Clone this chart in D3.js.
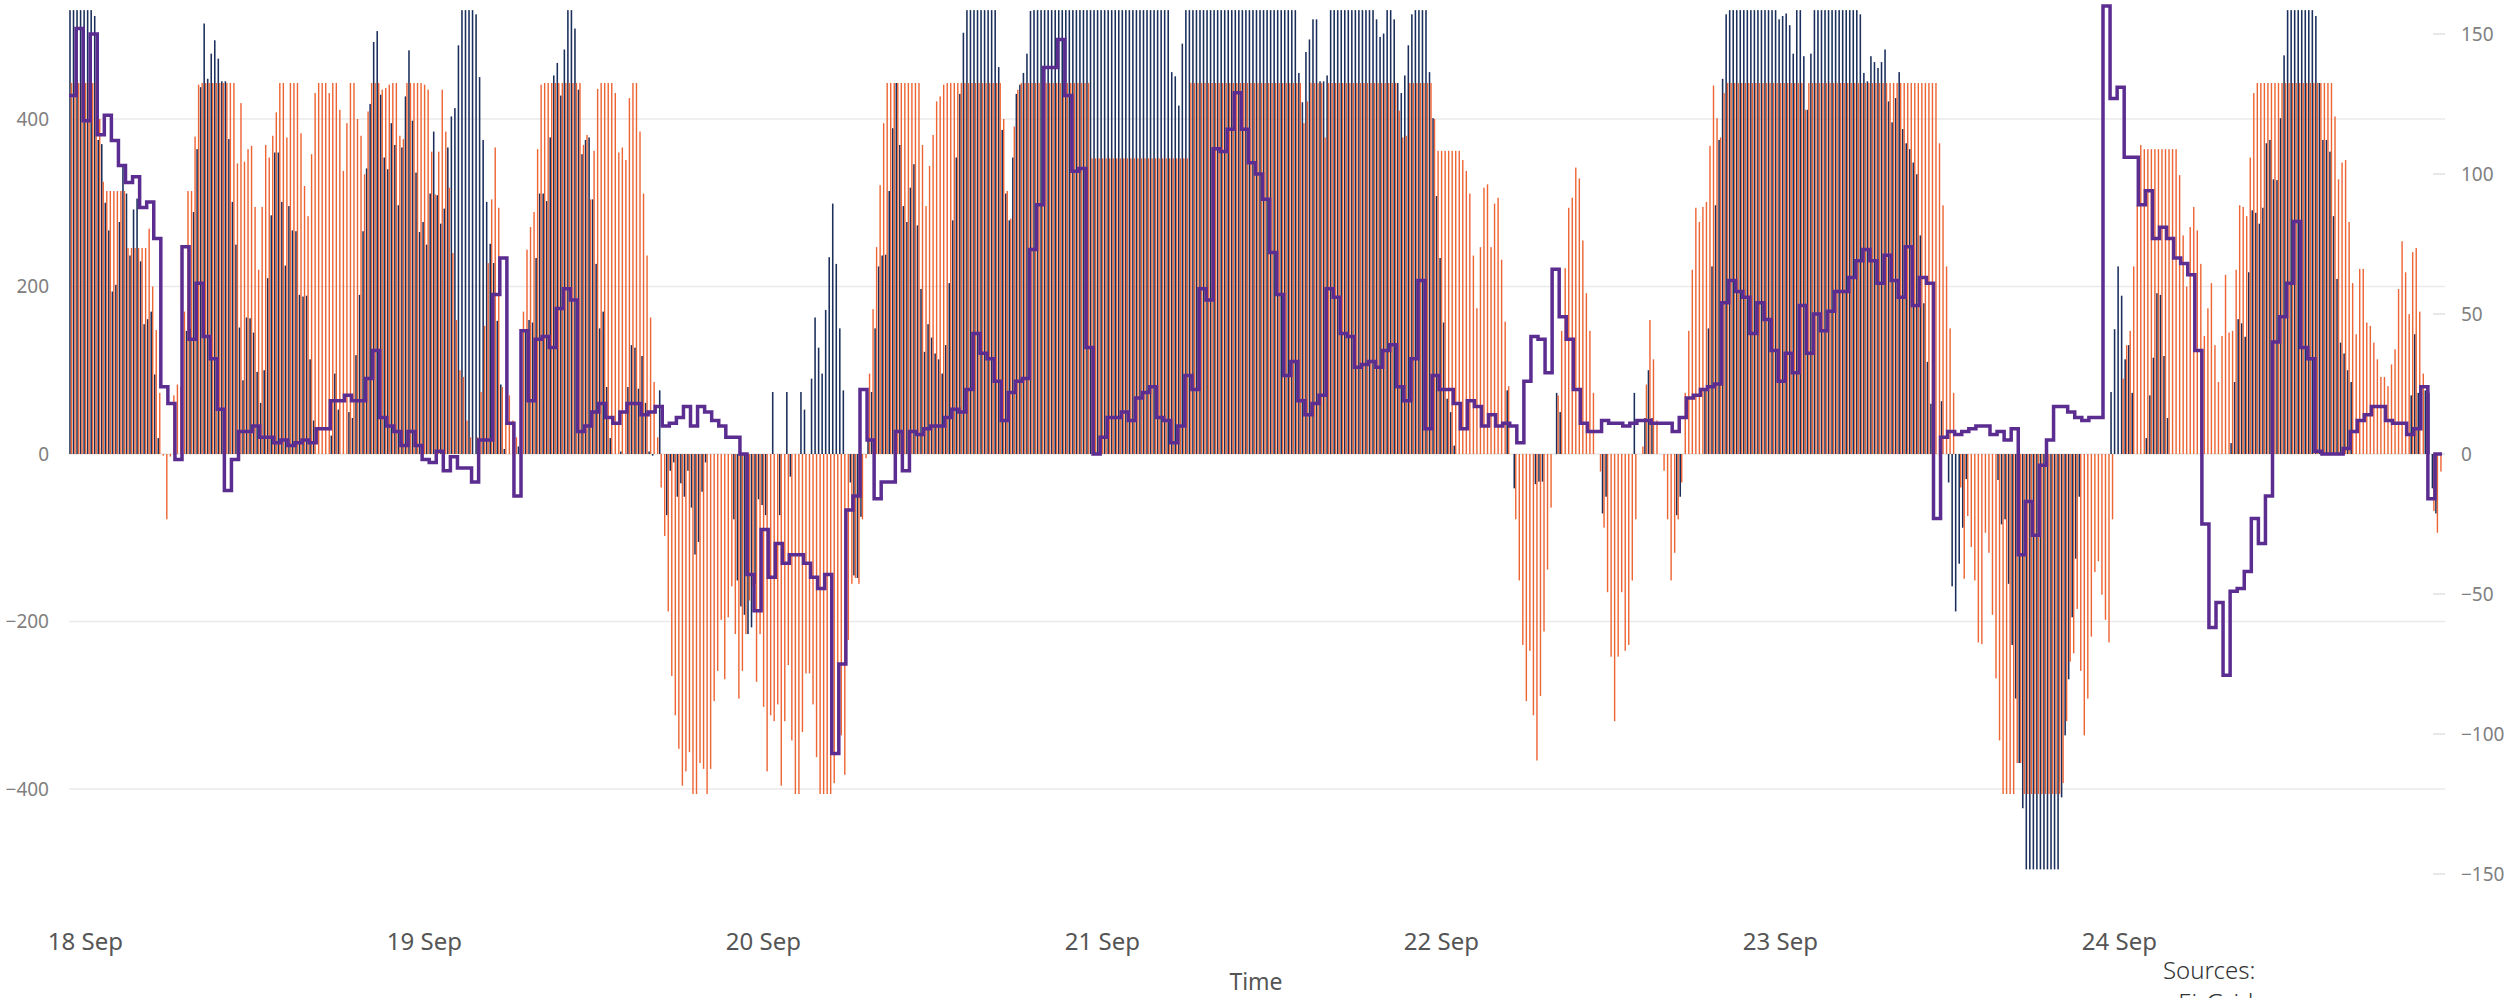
<!DOCTYPE html>
<html>
<head>
<meta charset="utf-8">
<script src="https://cdn.jsdelivr.net/npm/d3@7"></script>
<style>
  html, body { margin: 0; padding: 0; background: #ffffff; }
  svg { display: block; }
  text { font-family: "Noto Sans", "Open Sans", "DejaVu Sans", sans-serif; }
</style>
</head>
<body>
<svg id="chart" width="2519" height="998"></svg>
<script>
// ---------------- DATA ----------------
// 15-minute slots starting 17 Sep 23:00, 7 days (672 slots)
const seriesStart = "2023-09-17T23:00:00Z";
const slotMinutes = 15;
const lineStepMinutes = 30;

const blueValues = [
530,530,530,530,530,530,530,523,375,370,300,267,194,202,277,345,311,237,292,305,230,155,161,170,
95,19,0,0,0,0,0,0,0,147,150,289,364,438,514,448,478,494,472,445,445,376,301,250,
151,88,163,162,145,98,61,100,210,285,360,360,301,225,296,267,266,190,188,189,113,40,0,0,
0,0,22,96,53,0,0,50,43,118,190,266,341,418,492,505,429,354,340,395,369,297,366,427,
482,398,336,265,277,250,311,385,309,275,293,366,403,413,488,530,530,530,530,525,450,375,301,251,
228,159,83,6,0,0,0,9,0,147,160,157,234,311,311,302,378,452,467,428,483,530,530,508,
435,358,375,378,304,227,150,170,80,19,0,0,3,0,80,130,127,78,117,61,3,-2,0,76,
0,-73,-20,-10,-51,-35,-51,-20,-64,-120,-105,-45,-10,0,0,0,0,0,0,0,-78,-151,-182,-192,
-215,-207,-155,-54,-61,-73,0,74,0,-73,0,74,-27,0,0,74,53,0,90,163,127,96,172,235,
299,227,150,76,0,-34,-145,-148,-75,0,20,74,150,224,237,238,314,389,443,369,296,277,318,346,
273,197,122,155,139,120,113,96,130,204,279,354,430,503,530,530,530,530,530,530,530,530,530,462,
387,311,279,354,430,441,455,478,529,530,530,530,530,530,530,530,530,530,530,530,530,530,530,530,
530,530,530,530,530,530,530,530,530,530,530,530,530,530,530,530,530,530,530,530,530,530,530,530,
456,451,416,490,530,530,530,530,530,530,530,530,530,530,530,530,530,530,530,530,530,530,530,530,
530,530,530,530,530,530,530,530,530,530,530,530,455,420,480,495,519,519,445,445,452,530,530,530,
530,530,530,530,530,530,530,530,530,530,519,498,502,530,530,519,443,431,452,488,525,530,530,530,
530,456,401,308,234,157,66,50,10,0,0,0,0,0,0,0,0,0,0,0,0,0,0,76,
0,-41,0,0,0,0,0,-36,-33,-33,0,0,0,73,50,0,0,0,0,0,0,0,0,0,
0,0,-71,-51,0,0,0,0,0,0,0,73,0,0,43,100,43,0,0,0,0,0,0,-73,
-51,0,0,0,0,0,0,76,150,224,297,375,448,525,530,530,530,530,530,530,530,530,530,530,
530,530,530,530,519,523,526,512,478,530,530,475,411,478,530,530,530,530,530,530,530,530,530,530,
530,530,530,525,455,445,475,468,461,468,483,421,396,425,456,388,371,364,348,334,261,180,110,60,
0,0,63,0,-34,-158,-188,-131,-88,-30,0,0,0,0,0,0,0,0,-31,-84,-78,-155,-228,-292,
-369,-423,-496,-496,-496,-496,-496,-496,-496,-496,-496,-496,-410,-336,-269,-195,-125,-51,0,0,0,0,0,0,
0,0,74,149,224,189,113,130,73,0,0,0,19,70,115,192,190,117,43,0,0,0,0,0,
0,0,0,0,0,0,0,0,0,0,0,0,13,86,161,156,140,217,291,288,275,294,371,375,
328,327,401,476,530,530,530,530,530,530,530,530,523,443,375,375,361,284,209,133,120,100,86,0,
0,0,0,0,0,0,0,0,0,0,0,0,0,0,0,70,143,73,0,76,73,-41,-71,0
];

const orangeValues = [
443,443,443,443,443,443,443,443,400,325,314,314,314,314,314,314,246,246,246,246,246,246,269,200,
148,73,-2,-78,-3,70,83,80,170,314,314,379,441,443,443,443,443,443,443,443,443,443,443,347,
419,349,364,368,295,220,295,369,354,380,408,443,443,378,443,443,443,383,320,284,358,431,443,443,
443,431,443,443,411,338,395,443,443,400,380,334,409,443,443,443,435,437,441,443,443,380,376,443,
443,443,443,443,441,435,361,310,361,435,385,318,240,160,100,92,40,20,0,20,74,153,228,304,
366,294,80,40,70,40,20,0,170,244,271,289,364,441,443,443,443,443,443,443,443,443,443,443,
443,369,381,304,362,436,443,443,443,443,431,360,366,351,425,443,443,385,311,237,163,86,20,-40,
-98,-188,-265,-312,-352,-396,-379,-356,-406,-406,-369,-376,-406,-376,-295,-259,-198,-269,-195,-158,-215,-292,-259,-215,
-175,-158,-272,-215,-302,-379,-312,-319,-299,-396,-319,-252,-342,-406,-406,-332,-262,-262,-299,-362,-406,-406,-406,-406,
-393,-349,-336,-383,-222,-155,-148,-155,-78,-5,96,173,247,321,395,443,443,443,443,443,443,443,443,443,
443,369,296,344,381,421,427,441,443,443,443,443,443,443,443,443,443,443,443,443,443,443,443,443,
400,314,281,391,435,443,443,443,443,443,443,443,443,443,443,443,443,443,443,443,443,443,443,443,
443,353,353,353,353,353,353,353,353,353,353,353,353,353,353,353,353,353,353,353,353,353,353,353,
353,353,353,353,353,443,443,443,443,443,443,443,443,443,443,443,443,443,443,443,443,443,443,443,
443,443,443,443,443,443,443,443,443,443,443,443,443,395,421,443,443,443,443,378,443,443,443,443,
443,443,443,443,443,443,443,443,443,443,443,443,443,443,443,443,410,378,380,443,443,443,443,443,
443,443,400,362,362,362,362,362,362,362,351,338,311,237,174,247,318,322,247,299,306,232,158,81,
0,-78,-151,-228,-295,-235,-312,-366,-289,-212,-138,-64,0,70,147,222,294,306,342,329,255,192,147,73,
0,-21,-88,-165,-242,-319,-242,-165,-235,-228,-151,-78,0,9,83,160,113,40,0,-20,-78,-151,-118,-78,
-34,73,147,220,294,277,295,301,368,440,401,378,431,443,443,443,443,443,443,443,443,443,443,443,
443,443,443,443,443,443,443,443,443,443,443,411,443,443,443,443,443,443,443,443,443,443,443,443,
443,443,443,443,443,443,443,443,443,443,443,443,443,443,443,443,443,443,443,443,443,443,443,443,
443,371,297,224,150,73,0,-40,-149,-74,-111,-151,-225,-227,-94,-118,-192,-268,-342,-406,-406,-406,-406,-369,
-369,-406,-406,-406,-406,-406,-406,-406,-406,-406,-406,-406,-393,-319,-248,-238,-185,-259,-336,-292,-218,-141,-128,-168,
-198,-225,-78,0,0,90,130,147,224,297,369,364,364,364,364,364,364,364,364,364,364,333,261,200,
271,295,267,227,141,174,204,130,86,141,214,145,147,220,297,295,284,354,431,443,443,443,443,443,
443,443,443,443,443,443,443,443,443,443,443,443,443,443,443,443,443,403,328,348,351,277,204,143,
221,221,157,153,133,113,92,92,81,107,125,197,254,217,167,241,246,170,96,80,0,-68,-94,-21
];

// 30-minute step line (right axis)
const purpleValues = [
128,152,119,150,114,121,112,103,97,99,88,90,77,24,18,-2,74,41,61,42,34,16,-13,-2,
8,8,10,6,6,4,5,3,4,5,4,9,9,19,19,21,19,19,27,37,13,10,8,3,
8,3,-2,-3,1,-6,-1,-5,-5,-10,5,5,57,70,11,-15,44,19,41,42,38,52,59,55,
8,10,15,18,13,11,15,18,18,14,15,17,10,11,13,17,10,17,15,12,10,6,6,0,
-43,-56,-27,-44,-32,-39,-36,-36,-39,-44,-48,-43,-107,-75,-20,-15,23,5,-16,-10,-10,8,-6,8,
7,9,10,10,13,16,15,23,43,36,34,26,12,22,26,27,73,89,138,138,148,128,101,102,
38,0,6,13,13,15,12,20,22,24,13,12,4,10,28,23,59,55,109,108,116,129,116,104,
100,91,72,57,28,33,19,14,18,21,59,56,43,42,31,32,33,31,37,39,24,19,34,62,
9,28,23,23,18,9,19,17,10,14,10,11,10,4,26,42,41,29,66,49,41,23,11,8,
8,12,11,11,10,11,12,12,11,11,11,8,13,20,21,23,24,25,54,62,58,56,43,54,
48,37,26,36,29,53,36,50,44,51,58,58,63,69,73,69,61,71,62,56,74,53,63,61,
-23,6,8,7,8,9,10,10,7,8,5,9,-36,-17,-29,-4,5,17,17,15,13,12,13,13,
160,127,131,106,106,89,94,77,81,77,70,68,64,37,-25,-62,-53,-79,-49,-48,-42,-23,-32,-15,
40,49,61,83,38,34,1,0,0,0,2,8,12,14,17,17,12,11,11,7,9,24,-16,0
];

const leftTicks = [-400, -200, 0, 200, 400];
const rightTicks = [-150, -100, -50, 0, 50, 100, 150];
const xAxisTitle = "Time";
const sourcesLines = ["Sources:", "\u2022 EirGrid"];

// ---------------- DRAW ----------------
const svg = d3.select("#chart");
const W = 2519, H = 998;
const plot = { left: 69, right: 2442, top: 0, bottom: 880 };

const MIN = 60 * 1000;
const t0 = new Date(seriesStart).getTime();
const slotMs = slotMinutes * MIN;
const times = blueValues.map((_, i) => new Date(t0 + i * slotMs));
const x = d3.scaleUtc()
  .domain([new Date(t0 - slotMs / 2), new Date(t0 + (blueValues.length - 0.5) * slotMs)])
  .range([plot.left, plot.right]);

const yL = d3.scaleLinear().domain([-400, 400]).range([789, 119]);
const yR = d3.scaleLinear().domain([-150, 150]).range([874, 34]);

svg.append("rect").attr("width", W).attr("height", H).attr("fill", "#ffffff");

svg.append("defs").append("clipPath").attr("id", "plotClip")
  .append("rect").attr("x", plot.left).attr("y", plot.top)
  .attr("width", plot.right - plot.left + 4).attr("height", plot.bottom - plot.top);

// gridlines (left axis)
svg.append("g").selectAll("line").data(leftTicks).join("line")
  .attr("x1", plot.left).attr("x2", plot.right + 3)
  .attr("y1", d => yL(d)).attr("y2", d => yL(d))
  .attr("stroke", "#eaeaea").attr("stroke-width", 1.6);

// right-axis tick marks (inside)
svg.append("g").selectAll("line").data(rightTicks).join("line")
  .attr("x1", plot.right - 9).attr("x2", plot.right + 3)
  .attr("y1", d => yR(d)).attr("y2", d => yR(d))
  .attr("stroke", "#e3e3e3").attr("stroke-width", 1.6);

const slotPx = x(new Date(t0 + slotMs)) - x(new Date(t0));
const bwBlue = slotPx * 0.44;
const bwOrange = slotPx * 0.4;

const bars = svg.append("g").attr("clip-path", "url(#plotClip)");
bars.append("g").selectAll("rect").data(blueValues).join("rect")
  .attr("x", (d, i) => x(times[i]) - bwBlue)
  .attr("width", bwBlue)
  .attr("y", d => Math.min(yL(d), yL(0)))
  .attr("height", d => Math.abs(yL(d) - yL(0)))
  .attr("fill", "#1b2f5c");
bars.append("g").selectAll("rect").data(orangeValues).join("rect")
  .attr("x", (d, i) => x(times[i]))
  .attr("width", bwOrange)
  .attr("y", d => Math.min(yL(d), yL(0)))
  .attr("height", d => Math.abs(yL(d) - yL(0)))
  .attr("fill", "#ee6534");

// purple step line
const stepMs = lineStepMinutes * MIN;
const lineStart = t0 - slotMs / 2;
const linePts = purpleValues.map((v, j) => [new Date(lineStart + j * stepMs), v]);
linePts.push([new Date(lineStart + purpleValues.length * stepMs), purpleValues[purpleValues.length - 1]]);
const line = d3.line().x(d => x(d[0])).y(d => yR(d[1])).curve(d3.curveStepAfter);
svg.append("path").attr("clip-path", "url(#plotClip)")
  .datum(linePts).attr("d", line)
  .attr("fill", "none").attr("stroke", "#5c2d91").attr("stroke-width", 3.5)
  .attr("stroke-linejoin", "miter");

// left axis labels
const axL = d3.axisLeft(yL).tickValues(leftTicks).tickSize(0).tickPadding(0).tickFormat(d3.format("d"));
const gL = svg.append("g").attr("transform", "translate(49,0)").call(axL);
gL.select(".domain").remove();
gL.selectAll("text").attr("fill", "#808080").style("font-size", "19px")
  .style("font-family", "'Noto Sans', 'Open Sans', sans-serif");

// right axis labels
const axR = d3.axisRight(yR).tickValues(rightTicks).tickSize(0).tickPadding(0).tickFormat(d3.format("d"));
const gR = svg.append("g").attr("transform", "translate(2461,0)").call(axR);
gR.select(".domain").remove();
gR.selectAll("text").attr("fill", "#808080").style("font-size", "19px")
  .style("font-family", "'Noto Sans', 'Open Sans', sans-serif");

// x axis
const axX = d3.axisBottom(x).ticks(d3.utcDay.every(1)).tickSize(0).tickPadding(0)
  .tickFormat(d3.utcFormat("%-d %b"));
const gX = svg.append("g").attr("transform", "translate(0,950)").call(axX);
gX.select(".domain").remove();
gX.selectAll("text").attr("y", 0).attr("dy", null).attr("fill", "#555555")
  .style("font-size", "24px").style("font-family", "'Noto Sans', 'Open Sans', sans-serif");

svg.append("text").attr("x", 1256).attr("y", 990).attr("text-anchor", "middle")
  .attr("fill", "#555555").style("font-size", "23px").text(xAxisTitle);

svg.append("g").selectAll("text").data(sourcesLines).join("text")
  .attr("x", 2163).attr("y", (d, i) => 979 + i * 32)
  .attr("fill", "#333333").style("font-size", "24px").style("font-weight", 300)
  .text(d => d);
</script>
</body>
</html>
